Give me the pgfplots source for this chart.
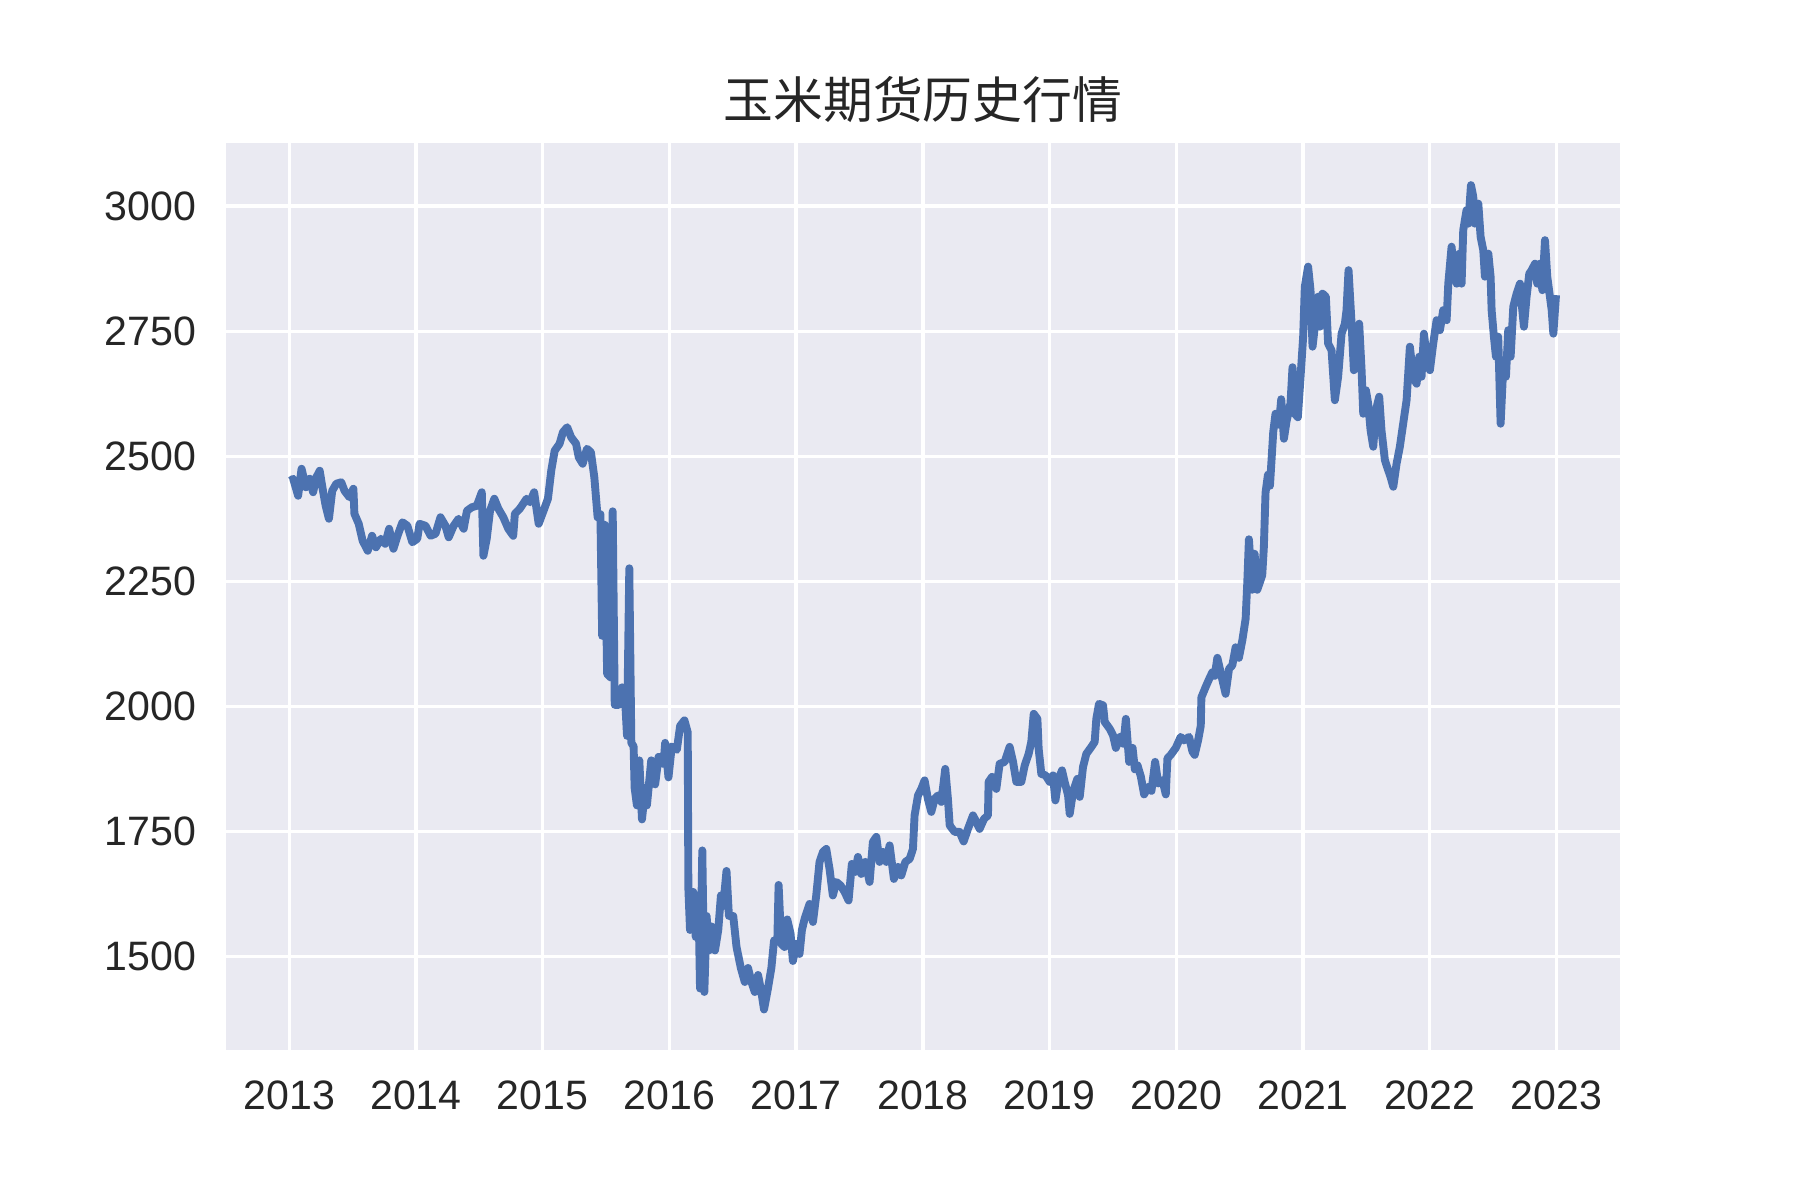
\documentclass[border=0pt]{standalone}
\usepackage{pgfplots}
\pgfplotsset{compat=1.18}
\usepackage{fontspec}
\setmainfont{Liberation Sans}
\newfontfamily\cjk{Noto Sans CJK SC}
\definecolor{sbbg}{HTML}{EAEAF2}
\definecolor{sbblue}{HTML}{4C72B0}
\definecolor{sbtext}{HTML}{262626}
\begin{document}
\begin{tikzpicture}
\path[use as bounding box] (-0.753in,-0.5in) rectangle (5.247in,3.5in);
\begin{axis}[
    scale only axis,
    width=4.647in,
    height=3.023in,
    xmin=2012.5, xmax=2023.5,
    ymin=1313, ymax=3126,
    xtick={2013,2014,...,2023},
    ytick={1500,1750,...,3000},
    /pgf/number format/.cd, 1000 sep={}, assume math mode=true, /pgfplots/.cd,
    axis background/.style={fill=sbbg},
    axis line style={draw=none},
    major tick length=0pt,
    tick style={draw=none},
    grid=major,
    grid style={white, line width=0.8pt},
    ticklabel style={font=\fontsize{9.9}{12}\selectfont, text=sbtext},
    xticklabel style={yshift=-4pt},
    yticklabel style={xshift=-3.6pt},
    title={\cjk 玉米期货历史行情},
    title style={font=\fontsize{12}{14}\selectfont, text=sbtext, yshift=-4.5pt},
]
\addplot[sbblue, line width=1.9pt, line join=round, no marks] table {
x y
2013.010 2451
2013.031 2455
2013.070 2421
2013.097 2475
2013.131 2438
2013.162 2455
2013.188 2428
2013.214 2458
2013.240 2471
2013.266 2431
2013.287 2401
2013.313 2375
2013.339 2431
2013.371 2445
2013.410 2448
2013.436 2431
2013.475 2418
2013.506 2435
2013.514 2385
2013.548 2365
2013.579 2331
2013.619 2311
2013.653 2341
2013.684 2318
2013.723 2335
2013.757 2325
2013.788 2355
2013.822 2315
2013.854 2341
2013.893 2368
2013.932 2361
2013.971 2328
2014.010 2335
2014.028 2365
2014.075 2361
2014.115 2341
2014.154 2345
2014.193 2378
2014.232 2361
2014.258 2338
2014.297 2361
2014.336 2375
2014.376 2355
2014.402 2391
2014.441 2398
2014.480 2401
2014.519 2428
2014.532 2301
2014.558 2335
2014.584 2391
2014.618 2415
2014.650 2395
2014.689 2378
2014.728 2355
2014.767 2341
2014.780 2385
2014.819 2395
2014.872 2415
2014.898 2408
2014.932 2428
2014.968 2365
2015.002 2388
2015.041 2415
2015.067 2471
2015.094 2511
2015.133 2525
2015.159 2548
2015.193 2558
2015.224 2538
2015.263 2525
2015.284 2498
2015.315 2485
2015.349 2515
2015.380 2508
2015.407 2458
2015.433 2378
2015.455 2384
2015.469 2141
2015.490 2363
2015.508 2065
2015.534 2058
2015.552 2390
2015.568 2003
2015.599 2003
2015.626 2038
2015.652 2003
2015.665 1941
2015.683 2276
2015.699 1927
2015.717 1920
2015.725 1837
2015.743 1802
2015.762 1892
2015.783 1774
2015.809 1837
2015.822 1802
2015.856 1892
2015.887 1844
2015.914 1899
2015.953 1885
2015.966 1927
2015.992 1858
2016.018 1920
2016.058 1913
2016.084 1961
2016.118 1972
2016.144 1948
2016.149 1636
2016.162 1553
2016.188 1629
2016.207 1539
2016.228 1622
2016.241 1436
2016.259 1712
2016.275 1429
2016.293 1581
2016.312 1512
2016.332 1560
2016.359 1512
2016.385 1553
2016.406 1622
2016.424 1601
2016.450 1671
2016.469 1581
2016.503 1581
2016.529 1519
2016.563 1477
2016.594 1449
2016.620 1477
2016.647 1449
2016.673 1429
2016.699 1463
2016.725 1429
2016.746 1394
2016.777 1436
2016.804 1477
2016.825 1532
2016.851 1532
2016.861 1643
2016.882 1525
2016.908 1519
2016.929 1574
2016.955 1546
2016.974 1491
2017.000 1525
2017.026 1505
2017.045 1553
2017.066 1575
2017.105 1605
2017.132 1569
2017.158 1622
2017.184 1689
2017.211 1709
2017.237 1715
2017.263 1675
2017.289 1622
2017.316 1649
2017.350 1642
2017.382 1629
2017.413 1612
2017.439 1685
2017.466 1669
2017.487 1699
2017.513 1665
2017.545 1689
2017.579 1649
2017.605 1729
2017.632 1739
2017.658 1689
2017.684 1709
2017.711 1689
2017.737 1722
2017.771 1655
2017.803 1679
2017.829 1662
2017.861 1689
2017.895 1695
2017.921 1715
2017.934 1782
2017.961 1822
2017.987 1835
2018.013 1852
2018.039 1815
2018.066 1789
2018.092 1815
2018.118 1822
2018.145 1809
2018.176 1875
2018.197 1815
2018.211 1762
2018.250 1749
2018.289 1749
2018.321 1730
2018.355 1755
2018.395 1782
2018.421 1769
2018.447 1755
2018.482 1775
2018.513 1782
2018.518 1849
2018.545 1859
2018.579 1835
2018.605 1885
2018.645 1889
2018.684 1919
2018.711 1889
2018.737 1849
2018.776 1849
2018.803 1882
2018.834 1905
2018.855 1929
2018.874 1985
2018.903 1975
2018.913 1915
2018.934 1865
2018.968 1862
2019.000 1849
2019.026 1862
2019.045 1812
2019.071 1855
2019.097 1872
2019.118 1849
2019.145 1822
2019.158 1785
2019.184 1829
2019.218 1855
2019.237 1819
2019.263 1879
2019.289 1905
2019.329 1919
2019.355 1929
2019.368 1975
2019.389 2005
2019.421 2002
2019.434 1969
2019.474 1955
2019.500 1942
2019.522 1917
2019.556 1939
2019.583 1925
2019.601 1975
2019.627 1889
2019.654 1917
2019.672 1874
2019.693 1882
2019.719 1860
2019.745 1824
2019.777 1839
2019.803 1831
2019.832 1889
2019.856 1846
2019.890 1853
2019.916 1824
2019.929 1896
2019.955 1903
2019.995 1917
2020.034 1939
2020.060 1932
2020.100 1939
2020.126 1910
2020.144 1903
2020.171 1932
2020.192 1961
2020.197 2018
2020.231 2039
2020.257 2054
2020.283 2068
2020.302 2061
2020.323 2097
2020.349 2068
2020.388 2025
2020.415 2075
2020.441 2082
2020.467 2118
2020.493 2097
2020.520 2132
2020.546 2175
2020.559 2247
2020.572 2334
2020.598 2233
2020.617 2305
2020.638 2233
2020.677 2262
2020.690 2319
2020.703 2427
2020.722 2463
2020.738 2441
2020.764 2549
2020.782 2585
2020.808 2563
2020.827 2614
2020.848 2535
2020.869 2570
2020.900 2606
2020.916 2678
2020.934 2585
2020.958 2578
2020.979 2657
2021.000 2739
2021.013 2839
2021.039 2879
2021.058 2832
2021.074 2719
2021.092 2759
2021.118 2819
2021.132 2759
2021.153 2825
2021.179 2819
2021.197 2725
2021.224 2712
2021.250 2612
2021.276 2659
2021.303 2745
2021.329 2765
2021.342 2792
2021.358 2872
2021.382 2765
2021.400 2672
2021.421 2692
2021.442 2765
2021.461 2672
2021.474 2585
2021.495 2632
2021.513 2605
2021.532 2552
2021.553 2519
2021.574 2592
2021.600 2619
2021.618 2552
2021.645 2492
2021.671 2472
2021.689 2459
2021.711 2439
2021.737 2485
2021.763 2519
2021.789 2565
2021.816 2612
2021.842 2719
2021.868 2659
2021.895 2645
2021.916 2699
2021.934 2659
2021.953 2745
2021.974 2699
2022.000 2672
2022.026 2725
2022.053 2772
2022.079 2752
2022.105 2792
2022.132 2772
2022.145 2845
2022.171 2919
2022.189 2872
2022.211 2845
2022.232 2905
2022.250 2845
2022.263 2952
2022.289 2992
2022.303 2965
2022.324 3042
2022.342 3019
2022.355 2965
2022.382 3005
2022.400 2939
2022.421 2912
2022.434 2859
2022.461 2905
2022.479 2859
2022.487 2792
2022.505 2739
2022.521 2699
2022.539 2739
2022.558 2565
2022.579 2679
2022.600 2659
2022.618 2752
2022.637 2699
2022.658 2799
2022.684 2825
2022.711 2845
2022.724 2805
2022.742 2759
2022.763 2819
2022.784 2865
2022.803 2872
2022.829 2885
2022.847 2845
2022.868 2885
2022.887 2832
2022.908 2932
2022.926 2859
2022.947 2819
2022.961 2792
2022.974 2745
2022.995 2822
};
\end{axis}
\end{tikzpicture}
\end{document}
